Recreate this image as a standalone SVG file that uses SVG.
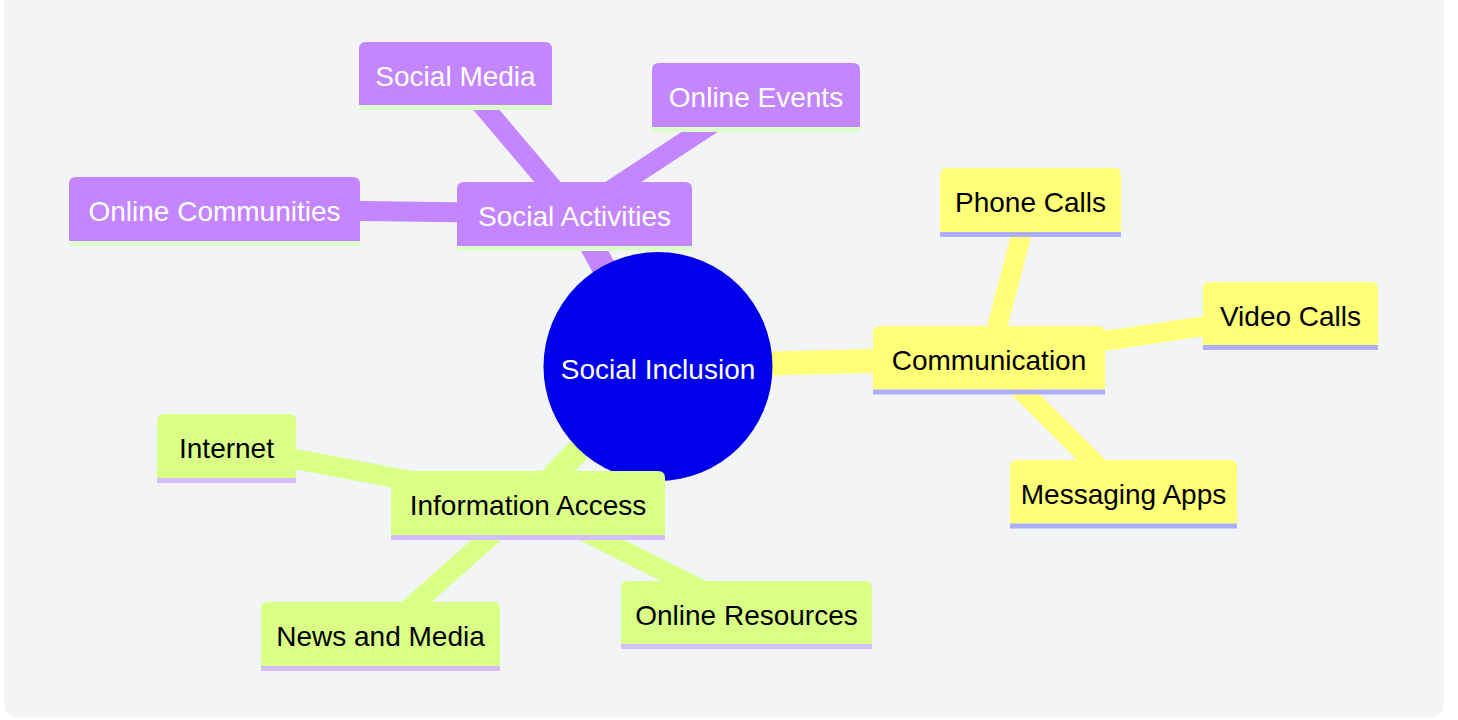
<svg xmlns="http://www.w3.org/2000/svg" width="1458" height="720" viewBox="0 0 1458 720">
  <style>
    text { font-family: "Liberation Sans", Arial, sans-serif; font-size: 28px; text-anchor: middle; }
    .edge { fill: none; stroke-linecap: butt; }
    .d0 { stroke-width: 24; }
    .d1 { stroke-width: 20; }
    .purple { fill: #C386FF; }
    .yellow { fill: #FFFF78; }
    .green { fill: #D9FF86; }
    .e-purple { stroke: #C386FF; }
    .e-yellow { stroke: #FFFF78; }
    .e-green { stroke: #D9FF86; }
    .ul-purple { fill: #DDFFCC; }
    .ul-yellow { fill: #AEAEFF; }
    .ul-green { fill: #D5BEFF; }
    .tw { fill: #FFFFFF; }
    .tb { fill: #000000; }
  </style>
  <rect x="4" y="-14" width="1440" height="731" rx="12" fill="#F3F4F6"/>

  <g id="connectors">
    <line class="edge d0 e-purple" x1="658" y1="366.5" x2="574.5" y2="214"/>
    <line class="edge d0 e-yellow" x1="658" y1="366.5" x2="989" y2="358"/>
    <line class="edge d0 e-green" x1="658" y1="366.5" x2="528" y2="503"/>
    <line class="edge d1 e-purple" x1="574.5" y1="214" x2="455.5" y2="73.5"/>
    <line class="edge d1 e-purple" x1="574.5" y1="214" x2="756" y2="95"/>
    <line class="edge d1 e-purple" x1="574.5" y1="214" x2="214.5" y2="209"/>
    <line class="edge d1 e-yellow" x1="989" y1="358" x2="1030.5" y2="200"/>
    <line class="edge d1 e-yellow" x1="989" y1="358" x2="1290.5" y2="313.5"/>
    <line class="edge d1 e-yellow" x1="989" y1="358" x2="1123.5" y2="492"/>
    <line class="edge d1 e-green" x1="528" y1="503" x2="226.5" y2="446"/>
    <line class="edge d1 e-green" x1="528" y1="503" x2="380.5" y2="634"/>
    <line class="edge d1 e-green" x1="528" y1="503" x2="746.5" y2="612.5"/>
  </g>

  <g id="node-root">
    <circle cx="658" cy="366.5" r="114.5" fill="#0000EA"/>
    <text class="tw" x="658" y="378.5">Social Inclusion</text>
  </g>

  <g id="node-social-activities">
    <path class="purple" d="M457,246 V189 Q457,182 464,182 H685 Q692,182 692,189 V246 Z"/>
    <rect class="ul-purple" x="457" y="246" width="235" height="5"/>
    <text class="tw" x="574.5" y="226">Social Activities</text>
  </g>
  <g id="node-social-media">
    <path class="purple" d="M359,105 V49 Q359,42 366,42 H545 Q552,42 552,49 V105 Z"/>
    <rect class="ul-purple" x="359" y="105" width="193" height="5"/>
    <text class="tw" x="455.5" y="86">Social Media</text>
  </g>
  <g id="node-online-events">
    <path class="purple" d="M652,127 V70 Q652,63 659,63 H853 Q860,63 860,70 V127 Z"/>
    <rect class="ul-purple" x="652" y="127" width="208" height="5"/>
    <text class="tw" x="756" y="107">Online Events</text>
  </g>
  <g id="node-online-communities">
    <path class="purple" d="M69,241 V184 Q69,177 76,177 H353 Q360,177 360,184 V241 Z"/>
    <rect class="ul-purple" x="69" y="241" width="291" height="5"/>
    <text class="tw" x="214.5" y="221">Online Communities</text>
  </g>

  <g id="node-communication">
    <path class="yellow" d="M873,389.5 V333 Q873,326 880,326 H1098 Q1105,326 1105,333 V389.5 Z"/>
    <rect class="ul-yellow" x="873" y="389.5" width="232" height="5"/>
    <text class="tb" x="989" y="370">Communication</text>
  </g>
  <g id="node-phone-calls">
    <path class="yellow" d="M940,232 V175 Q940,168 947,168 H1114 Q1121,168 1121,175 V232 Z"/>
    <rect class="ul-yellow" x="940" y="232" width="181" height="5"/>
    <text class="tb" x="1030.5" y="212">Phone Calls</text>
  </g>
  <g id="node-video-calls">
    <path class="yellow" d="M1203,345 V289 Q1203,282 1210,282 H1371 Q1378,282 1378,289 V345 Z"/>
    <rect class="ul-yellow" x="1203" y="345" width="175" height="5"/>
    <text class="tb" x="1290.5" y="326">Video Calls</text>
  </g>
  <g id="node-messaging-apps">
    <path class="yellow" d="M1010,523.5 V467 Q1010,460 1017,460 H1230 Q1237,460 1237,467 V523.5 Z"/>
    <rect class="ul-yellow" x="1010" y="523.5" width="227" height="5"/>
    <text class="tb" x="1123.5" y="504">Messaging Apps</text>
  </g>

  <g id="node-information-access">
    <path class="green" d="M391,535 V478 Q391,471 398,471 H658 Q665,471 665,478 V535 Z"/>
    <rect class="ul-green" x="391" y="535" width="274" height="5"/>
    <text class="tb" x="528" y="515">Information Access</text>
  </g>
  <g id="node-internet">
    <path class="green" d="M157,478 V421 Q157,414 164,414 H289 Q296,414 296,421 V478 Z"/>
    <rect class="ul-green" x="157" y="478" width="139" height="5"/>
    <text class="tb" x="226.5" y="458">Internet</text>
  </g>
  <g id="node-news-and-media">
    <path class="green" d="M261,666 V609 Q261,602 268,602 H493 Q500,602 500,609 V666 Z"/>
    <rect class="ul-green" x="261" y="666" width="239" height="5"/>
    <text class="tb" x="380.5" y="646">News and Media</text>
  </g>
  <g id="node-online-resources">
    <path class="green" d="M621,644 V588 Q621,581 628,581 H865 Q872,581 872,588 V644 Z"/>
    <rect class="ul-green" x="621" y="644" width="251" height="5"/>
    <text class="tb" x="746.5" y="625">Online Resources</text>
  </g>
</svg>
